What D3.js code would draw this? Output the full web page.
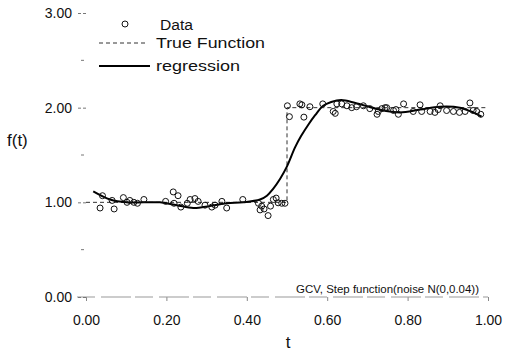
<!DOCTYPE html>
<html>
<head>
<meta charset="utf-8">
<script src="https://cdn.jsdelivr.net/npm/d3@7.9.0/dist/d3.min.js"></script>
<style>
  html, body { margin: 0; padding: 0; background: #fff; }
  text { font-family: "Liberation Sans", Arial, sans-serif; fill: #111; }
</style>
</head>
<body>
<svg id="chart" width="505" height="353"></svg>
<script>
// observed data (t, f)
const dataT = [0.035, 0.041, 0.065, 0.07, 0.093, 0.102, 0.109, 0.119, 0.128, 0.144,
  0.198, 0.217, 0.219, 0.229, 0.236, 0.252, 0.259, 0.271, 0.279, 0.296,
  0.313, 0.321, 0.338, 0.35, 0.39, 0.429, 0.433, 0.437, 0.443, 0.453,
  0.459, 0.466, 0.473, 0.478, 0.487, 0.495,
  0.501, 0.506, 0.532, 0.537, 0.542, 0.557, 0.589, 0.615, 0.62, 0.624,
  0.636, 0.649, 0.661, 0.673, 0.69, 0.706, 0.724, 0.727, 0.736, 0.744,
  0.748, 0.765, 0.771, 0.777, 0.79, 0.814, 0.831, 0.835, 0.856, 0.868,
  0.876, 0.881, 0.897, 0.914, 0.929, 0.943, 0.955, 0.963, 0.972, 0.982];
const dataF = [0.94, 1.07, 1.02, 0.93, 1.05, 1.0, 1.02, 1.0, 0.99, 1.03,
  1.01, 1.11, 0.99, 1.07, 0.95, 0.99, 1.03, 1.04, 1.01, 0.97,
  0.95, 0.97, 1.01, 0.94, 1.03, 0.99, 0.92, 0.96, 0.93, 0.86,
  0.96, 1.03, 1.045, 0.995, 0.99, 0.99,
  2.02, 1.905, 2.04, 2.03, 1.9, 2.01, 2.04, 1.96, 1.94, 2.04,
  2.04, 2.02, 2.0, 2.01, 2.02, 1.99, 1.93, 1.96, 1.99, 2.0,
  2.0, 1.97, 1.98, 1.93, 2.04, 1.96, 2.03, 1.96, 1.96, 1.95,
  1.98, 2.02, 1.97, 1.96, 1.95, 1.96, 2.05, 1.97, 1.96, 1.93];

// true step function
const trueT = [0, 0.5, 0.5, 1];
const trueF = [1, 1, 2, 2];

// regression curve
const regT = [0.018, 0.06, 0.101, 0.184, 0.226, 0.267, 0.308, 0.35, 0.391, 0.433,
  0.45, 0.465, 0.483, 0.5, 0.52, 0.535, 0.553, 0.57, 0.59, 0.61,
  0.635, 0.67, 0.73, 0.781, 0.831, 0.881, 0.93, 0.963, 0.984];
const regF = [1.116, 1.03, 1.0, 1.0, 0.97, 0.94, 0.96, 0.99, 1.0, 1.03,
  1.07, 1.14, 1.25, 1.38, 1.58, 1.7, 1.82, 1.92, 2.02, 2.06,
  2.08, 2.05, 1.98, 1.95, 1.98, 2.01, 2.0, 1.95, 1.905];

const xTicks = [0, 0.2, 0.4, 0.6, 0.8, 1.0];
const yTicks = [0, 1, 2, 3];
const yMinor = [0.5, 1.5, 2.5];

const svg = d3.select("#chart");
const x = d3.scaleLinear().domain([0, 1]).range([86, 488]);
const y = d3.scaleLinear().domain([0, 3]).range([297, 13]);

// x axis
const xAxis = svg.append("g")
  .attr("transform", `translate(0,${y(0)})`)
  .call(d3.axisBottom(x).tickValues(xTicks).tickFormat(d3.format(".2f")).tickSize(4).tickPadding(14));
xAxis.select(".domain").remove();
xAxis.selectAll("line").attr("stroke", "#888");
xAxis.selectAll("text").attr("font-size", "14px");
svg.append("line")
  .attr("x1", 77).attr("x2", 488)
  .attr("y1", y(0)).attr("y2", y(0))
  .attr("stroke", "#999").attr("stroke-width", 1)
  .attr("stroke-dasharray", "18 6 30 4");

// y axis
const yAxis = svg.append("g")
  .attr("transform", "translate(86,0)")
  .call(d3.axisLeft(y).tickValues(yTicks).tickFormat(d3.format(".2f")).tickSize(9).tickPadding(5));
yAxis.select(".domain").remove();
yAxis.selectAll("line").attr("stroke", "#777").attr("stroke-dasharray", "3 2");
yAxis.selectAll("text").attr("font-size", "14px");

svg.selectAll(".minor")
  .data(yMinor)
  .enter().append("line")
  .attr("class", "minor")
  .attr("x1", 81).attr("x2", 84)
  .attr("y1", d => y(d)).attr("y2", d => y(d))
  .attr("stroke", "#777");

// true function (dashed)
const trueData = trueT.map((t, i) => ({ t, f: trueF[i] }));
svg.append("path")
  .datum(trueData)
  .attr("fill", "none")
  .attr("stroke", "#333")
  .attr("stroke-width", 1)
  .attr("stroke-dasharray", "4 3")
  .attr("d", d3.line().x(d => x(d.t)).y(d => y(d.f)));

// regression curve
const regData = regT.map((t, i) => ({ t, f: regF[i] }));
svg.append("path")
  .datum(regData)
  .attr("fill", "none")
  .attr("stroke", "#000")
  .attr("stroke-width", 2)
  .attr("d", d3.line().x(d => x(d.t)).y(d => y(d.f)).curve(d3.curveCatmullRom));

// data points
const pts = dataT.map((t, i) => ({ t, f: dataF[i] }));
svg.selectAll(".pt")
  .data(pts)
  .enter().append("circle")
  .attr("class", "pt")
  .attr("cx", d => x(d.t))
  .attr("cy", d => y(d.f))
  .attr("r", 3)
  .attr("fill", "none")
  .attr("stroke", "#111")
  .attr("stroke-width", 1);

// axis titles
svg.append("text")
  .attr("x", 7).attr("y", 146)
  .attr("font-size", "17px")
  .text("f(t)");
svg.append("text")
  .attr("x", 288).attr("y", 348)
  .attr("text-anchor", "middle")
  .attr("font-size", "17px")
  .text("t");

// note
svg.append("text")
  .attr("x", 296).attr("y", 293)
  .attr("font-size", "11px")
  .attr("textLength", 183)
  .attr("lengthAdjust", "spacingAndGlyphs")
  .text("GCV, Step function(noise N(0,0.04))");

// legend
const legend = svg.append("g");
legend.append("circle")
  .attr("cx", 125).attr("cy", 24).attr("r", 3)
  .attr("fill", "none").attr("stroke", "#111");
legend.append("text")
  .attr("x", 160).attr("y", 30)
  .attr("font-size", "14px")
  .attr("textLength", 33)
  .attr("lengthAdjust", "spacingAndGlyphs")
  .text("Data");
legend.append("line")
  .attr("x1", 99).attr("x2", 145)
  .attr("y1", 43).attr("y2", 43)
  .attr("stroke", "#333")
  .attr("stroke-dasharray", "4 3");
legend.append("text")
  .attr("x", 156).attr("y", 48)
  .attr("font-size", "14px")
  .attr("textLength", 109)
  .attr("lengthAdjust", "spacingAndGlyphs")
  .text("True Function");
legend.append("line")
  .attr("x1", 99).attr("x2", 150)
  .attr("y1", 66).attr("y2", 66)
  .attr("stroke", "#000")
  .attr("stroke-width", 2);
legend.append("text")
  .attr("x", 156).attr("y", 71)
  .attr("font-size", "14px")
  .attr("textLength", 84)
  .attr("lengthAdjust", "spacingAndGlyphs")
  .text("regression");
</script>
</body>
</html>
